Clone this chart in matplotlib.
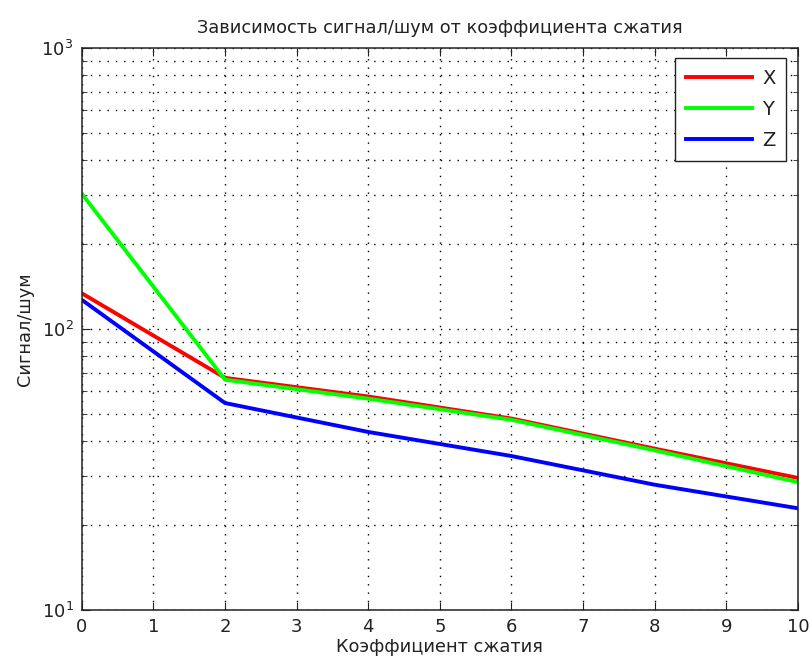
import numpy as np
import matplotlib
matplotlib.use("Agg")
import matplotlib.pyplot as plt
from matplotlib.ticker import LogLocator, NullFormatter, MultipleLocator

# данные
k_szhatiya = [0, 2, 4, 6, 8, 10]
snr_x = [134, 67, 57.5, 48, 37.5, 29.5]
snr_y = [303, 66, 56.5, 47.5, 37, 28.5]
snr_z = [127, 54.5, 43, 35.3, 27.9, 23.0]
series_names = ["X", "Y", "Z"]

plt.rcParams['font.family'] = ['DejaVu Sans']
plt.rcParams['mathtext.default'] = 'regular'

fig = plt.figure(figsize=(8.1, 6.68), dpi=100)
ax = fig.add_axes([0.101, 0.087, 0.884, 0.841])

ax.semilogy(k_szhatiya, snr_x, color="#ff0000", lw=2.8, label=series_names[0])
ax.semilogy(k_szhatiya, snr_y, color="#00ff00", lw=2.8, label=series_names[1])
ax.semilogy(k_szhatiya, snr_z, color="#0000ff", lw=2.8, label=series_names[2])

ax.set_xlim(0, 10)
ax.set_ylim(10, 1000)
ax.xaxis.set_major_locator(MultipleLocator(1))
ax.yaxis.set_major_locator(LogLocator(base=10, numticks=10))
ax.yaxis.set_minor_locator(LogLocator(base=10, subs=np.arange(2, 10), numticks=10))
ax.yaxis.set_minor_formatter(NullFormatter())

ax.tick_params(which="both", direction="in", top=True, right=True, labelsize=13,
               color="#222222", labelcolor="#222222")
ax.tick_params(which="major", length=6, pad=6)
ax.tick_params(which="minor", length=3.5)

dots = (0, (1, 5))
ax.grid(True, which="major", linestyle=dots, color="black", lw=1.0)
ax.grid(True, which="minor", axis="y", linestyle=dots, color="black", lw=1.0)

for sp in ax.spines.values():
    sp.set_linewidth(1.1)
    sp.set_color("#222222")

ax.set_title("Зависимость сигнал/шум от коэффициента сжатия", fontsize=12.8, pad=11,
             color="#222222")
ax.set_xlabel("Коэффициент сжатия", fontsize=12.8, labelpad=1, color="#222222")
ax.set_ylabel("Сигнал/шум", fontsize=12.8, labelpad=5, color="#222222")

leg = ax.legend(loc="upper right", fontsize=14, fancybox=False, framealpha=1,
                edgecolor="#222222", handlelength=3.4, handletextpad=0.5,
                labelspacing=0.62, borderpad=0.55, borderaxespad=0,
                bbox_to_anchor=(786 / 810, 1 - 58 / 668),
                bbox_transform=fig.transFigure)
leg.get_frame().set_linewidth(1.0)
for t in leg.get_texts():
    t.set_color("#222222")

fig.savefig("out.png", dpi=100, facecolor="white")
